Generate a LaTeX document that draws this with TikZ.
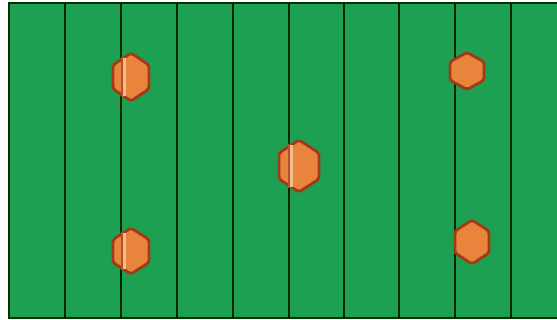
\documentclass[tikz,border=0pt]{standalone}
\usepackage{tikz}

\definecolor{fieldgreen}{RGB}{30,160,82}
\definecolor{stoneorange}{RGB}{232,132,60}
\definecolor{stoneedge}{RGB}{160,58,25}

\begin{document}
\begin{tikzpicture}[x=0.02cm, y=-0.02cm, stone/.style={fill=stoneorange, draw=stoneedge, line width=1.6pt, rounded corners=1.5pt, line join=round}]
	\useasboundingbox (0,0) rectangle (557,320);
	\fill[white] (0,0) rectangle (557,320);
	\draw[fill=fieldgreen, draw=black!80!green, line width=0.8pt] (9,3) rectangle (560,318);
	\foreach \x in {65,121,177,233,289,344,399,455,511} {
		\draw[black!85!green, line width=0.8pt] (\x,3) -- (\x,318);
	}
	\foreach \cx/\cy/\w/\h in {131/77/36/48, 299/166/40/52, 467/71/34/37, 131/251/36/46, 472/242/34/44} {
		\draw[stone] (\cx,\cy-\h/2) -- (\cx+\w/2,\cy-\h/4) -- (\cx+\w/2,\cy+\h/4) -- (\cx,\cy+\h/2) -- (\cx-\w/2,\cy+\h/4) -- (\cx-\w/2,\cy-\h/4) -- cycle;
	}
	% lines showing through the stones
	\foreach \sx/\cy/\h in {122/77/48, 289/166/52, 122/251/46} {
		\draw[stoneedge!70!stoneorange, line width=0.8pt] (\sx,\cy-\h/2+4) -- (\sx,\cy+\h/2-4);
		\draw[stoneorange!55!white, line width=1.2pt] (\sx+2.5,\cy-\h/2+5) -- (\sx+2.5,\cy+\h/2-5);
	}
\end{tikzpicture}
\end{document}
